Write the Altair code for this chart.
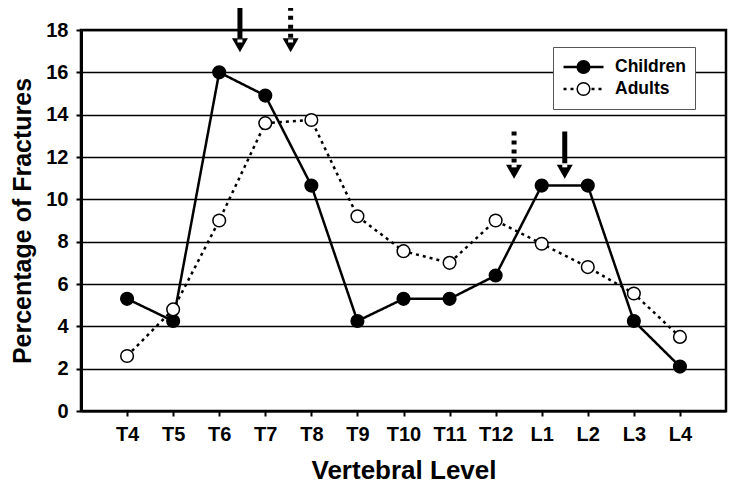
import altair as alt
import pandas as pd

levels = ["T4", "T5", "T6", "T7", "T8", "T9", "T10", "T11", "T12", "L1", "L2", "L3", "L4"]
children = [5.3, 4.25, 16.0, 14.9, 10.65, 4.25, 5.3, 5.3, 6.4, 10.65, 10.65, 4.25, 2.1]
adults = [2.6, 4.8, 9.0, 13.6, 13.75, 9.2, 7.55, 7.0, 9.0, 7.9, 6.8, 5.55, 3.5]
series_names = ["Children", "Adults"]

# arrows: position (fractional level index), shaft top, arrowhead top, arrowhead tip, style
arrow_pos = [2.45, 3.55, 8.4, 9.5]
arrow_top = [19.1, 19.1, 13.2, 13.2]
arrow_head = [17.6, 17.6, 11.7, 11.7]
arrow_tip = [16.95, 16.95, 10.9, 10.9]
arrow_style = ["Children", "Adults", "Adults", "Children"]

rows = []
for i, lv in enumerate(levels):
    rows.append({"idx": i, "level": lv, "value": children[i], "series": "Children", "series2": "Children"})
    rows.append({"idx": i, "level": lv, "value": adults[i], "series": "Adults", "series2": "Adults"})
df = pd.DataFrame(rows)

arr = pd.DataFrame({
    "pos": arrow_pos, "top": arrow_top, "head": arrow_head, "tip": arrow_tip,
    "style": arrow_style,
})
arr["mid"] = (arr["head"] + arr["tip"]) / 2

FONT = "Liberation Sans"
label_expr = "[" + ",".join("'%s'" % l for l in levels) + "][datum.value]"

x_scale = alt.Scale(domain=[-1, len(levels)], nice=False, zero=False)
y_scale = alt.Scale(domain=[0, 18], nice=False)

x_axis = alt.Axis(
    values=list(range(len(levels))), labelExpr=label_expr, grid=False,
    title="Vertebral Level", titleFontSize=26, titleFont=FONT, titleFontWeight="bold",
    titleColor="black", titlePadding=13,
    labelFont=FONT, labelFontSize=20, labelFontWeight="bold", labelColor="black",
    labelPadding=8, tickSize=5, tickColor="black", tickWidth=2,
    domainColor="black", domainWidth=2,
)
y_axis = alt.Axis(
    values=list(range(0, 19, 2)), grid=True, gridColor="black", gridWidth=1.5,
    title="Percentage of Fractures", titleFontSize=25, titleFont=FONT, titleFontWeight="bold",
    titleColor="black", titlePadding=10,
    labelFont=FONT, labelFontSize=20, labelFontWeight="bold", labelColor="black",
    labelPadding=8, tickSize=5, tickColor="black", tickWidth=2,
    domainColor="black", domainWidth=3,
)

X = alt.X("idx:Q", scale=x_scale, axis=x_axis)
Y = alt.Y("value:Q", scale=y_scale, axis=y_axis)

lines = alt.Chart(df).mark_line(color="black", strokeWidth=2.5, strokeCap="butt").encode(
    x=X, y=Y,
    strokeDash=alt.StrokeDash(
        "series:N",
        scale=alt.Scale(domain=series_names, range=[[1, 0], [3, 4]]),
        legend=alt.Legend(
            title=None, orient="none", legendX=472, legendY=17,
            symbolType="stroke", symbolSize=1600, symbolStrokeWidth=2.5,
            symbolStrokeColor="black", clipHeight=22, rowPadding=0,
            padding=9, labelOffset=10, symbolOffset=0,
            labelFont=FONT, labelFontSize=17.5, labelFontWeight="bold", labelColor="black",
            strokeColor="#555", fillColor="white", zindex=1,
        ),
    ),
    order=alt.Order("series:N", sort="ascending"),
)

points = alt.Chart(df).mark_point(
    filled=True, size=160, stroke="black", strokeWidth=1.5, opacity=1
).encode(
    x="idx:Q", y="value:Q",
    fill=alt.Fill(
        "series2:N",
        scale=alt.Scale(domain=series_names, range=["black", "white"]),
        legend=alt.Legend(
            title=None, orient="none", legendX=472, legendY=17,
            symbolType="circle", symbolSize=160, symbolStrokeWidth=1.5,
            symbolStrokeColor="black", clipHeight=22, rowPadding=0,
            padding=9, labelOffset=0, symbolOffset=14,
            labelExpr="''", labelFontSize=1,
            zindex=2,
        ),
    ),
)

shaft = alt.Chart(arr).mark_rule(color="black", strokeWidth=5, strokeCap="butt").encode(
    x="pos:Q", y="top:Q", y2="head:Q",
    strokeDash=alt.StrokeDash("style:N", scale=alt.Scale(domain=series_names, range=[[1, 0], [4, 5]]), legend=None),
)
head = alt.Chart(arr).mark_point(
    shape="M-1,-0.875L1,-0.875L0,0.875Z", size=256, filled=True, fill="black", opacity=1
).encode(x="pos:Q", y="mid:Q")
notch = alt.Chart(arr).mark_point(
    shape="M-1,-0.6L1,-0.6L1,0.6L-1,0.6Z", size=25, filled=True, fill="white", opacity=1
).encode(x="pos:Q", y="head:Q", yOffset=alt.value(2.5))

chart = alt.layer(
    lines, points, shaft, head, notch
).resolve_scale(strokeDash="independent").properties(
    width=645, height=381,
    autosize=alt.AutoSizeParams(type="none"),
    padding={"left": 73, "top": 22, "right": 2, "bottom": 73},
    background="white",
).configure_view(stroke="black", strokeWidth=2.5)

chart.save("out.html", embed_options={"renderer": "svg", "actions": False})
